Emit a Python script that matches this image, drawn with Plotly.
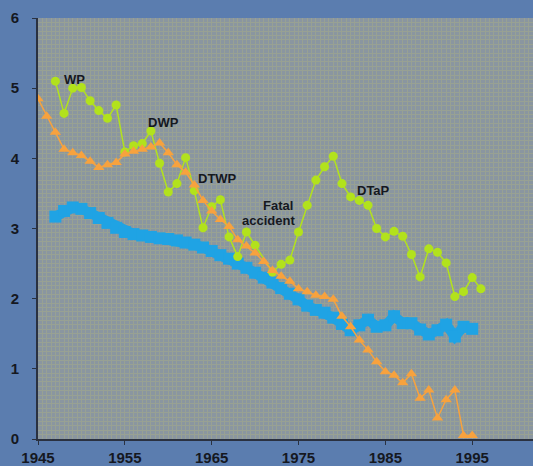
import plotly.graph_objects as go

# Whole-cell pertussis / DTaP incidence chart (log-scale style values)
green_years = list(range(1947, 1971)) + list(range(1972, 1997))
green_vals = [5.10, 4.64, 5.00, 5.01, 4.82, 4.68, 4.57, 4.76, 4.09, 4.18,
              4.21, 4.39, 3.93, 3.52, 3.64, 4.01, 3.54, 3.01, 3.31, 3.41,
              2.88, 2.60, 2.95, 2.76,
              2.38, 2.49, 2.55, 2.95, 3.33, 3.69, 3.88, 4.03, 3.64, 3.45,
              3.40, 3.33, 3.00, 2.88, 2.96, 2.89, 2.63, 2.31, 2.71, 2.66,
              2.51, 2.03, 2.10, 2.30, 2.14]

orange_years = list(range(1945, 1996))
orange_vals = [4.85, 4.60, 4.37, 4.13, 4.08, 4.04, 3.96, 3.87, 3.91, 3.94,
               4.06, 4.10, 4.13, 4.16, 4.22, 4.08, 3.91, 3.80, 3.62, 3.40,
               3.25, 3.13, 3.03, 2.84, 2.75, 2.65, 2.53, 2.40, 2.32, 2.25,
               2.14, 2.10, 2.05, 2.03, 1.99, 1.75, 1.60, 1.41, 1.27, 1.10,
               0.96, 0.91, 0.80, 0.93, 0.58, 0.70, 0.30, 0.56, 0.70, 0.05,
               0.05]

blue_years = list(range(1947, 1996))
blue_vals = [3.17, 3.25, 3.30, 3.28, 3.22, 3.15, 3.08, 3.01, 2.95, 2.92,
             2.90, 2.88, 2.86, 2.85, 2.83, 2.80, 2.77, 2.73, 2.68, 2.62,
             2.57, 2.50, 2.44, 2.37, 2.30, 2.23, 2.15, 2.07, 1.99, 1.90,
             1.84, 1.80, 1.73, 1.64, 1.55, 1.62, 1.70, 1.60, 1.62, 1.75,
             1.65, 1.65, 1.56, 1.49, 1.55, 1.63, 1.46, 1.60, 1.57]

x_ticks = [1945, 1955, 1965, 1975, 1985, 1995]
y_ticks = [0, 1, 2, 3, 4, 5, 6]

labels = [
    ("WP", 1949.15, 5.13, "center"),
    ("DWP", 1959.4, 4.51, "center"),
    ("DTWP", 1965.7, 3.71, "center"),
    ("Fatal", 1974.6, 3.33, "right"),
    ("accident", 1974.82, 3.12, "right"),
    ("DTaP", 1983.58, 3.54, "center"),
]

BLUE = "#1fa3e4"
ORANGE = "#f7a23e"
GREEN = "#b2e21c"
TEXT = "#15181f"
FONT = "Arial, Liberation Sans, sans-serif"
MESH = "#98a193"

fig = go.Figure()

fig.add_trace(go.Scatter(
    x=blue_years, y=blue_vals, mode="lines+markers",
    line=dict(color=BLUE, width=10),
    marker=dict(symbol="square", size=12, color=BLUE),
    hoverinfo="skip",
))
fig.add_trace(go.Scatter(
    x=green_years, y=green_vals, mode="lines+markers",
    line=dict(color=GREEN, width=1.5),
    marker=dict(symbol="circle", size=9, color=GREEN),
    hoverinfo="skip",
))
fig.add_trace(go.Scatter(
    x=orange_years, y=orange_vals, mode="lines+markers",
    line=dict(color=ORANGE, width=1.5),
    marker=dict(symbol="triangle-up", size=10, color=ORANGE),
    hoverinfo="skip",
))

for text, x, y, anchor in labels:
    fig.add_annotation(
        x=x, y=y, text=text, showarrow=False, xanchor=anchor, yanchor="middle",
        font=dict(family=FONT, size=13, color=TEXT, weight=700),
    )

fig.update_layout(
    width=533, height=466,
    margin=dict(l=38, r=0, t=18, b=27),
    paper_bgcolor="#5b7daf",
    plot_bgcolor="#8a96a0",
    showlegend=False,
    font=dict(family=FONT, color=TEXT),
)

fig.update_xaxes(
    range=[1945, 2002], tickmode="array", tickvals=x_ticks,
    ticktext=[str(t) for t in x_ticks],
    ticks="outside", ticklen=4, tickwidth=1, tickcolor="#2a3140",
    showline=True, linewidth=2, linecolor="#2a3140",
    showgrid=False, zeroline=False,
    tickfont=dict(family=FONT, size=15, color=TEXT, weight=700),
    minor=dict(dtick=0.5, tick0=1945, showgrid=True,
               gridcolor=MESH, gridwidth=1),
)
fig.update_yaxes(
    range=[0, 6], tickmode="array", tickvals=y_ticks,
    ticks="outside", ticklen=4, tickwidth=1, tickcolor="#2a3140",
    showline=True, linewidth=2, linecolor="#2a3140",
    showgrid=False, zeroline=False,
    ticklabelstandoff=10,
    tickfont=dict(family=FONT, size=15, color=TEXT, weight=700),
    minor=dict(dtick=0.0625, tick0=0, showgrid=True,
               gridcolor=MESH, gridwidth=1),
)

fig.write_html("out.html")
